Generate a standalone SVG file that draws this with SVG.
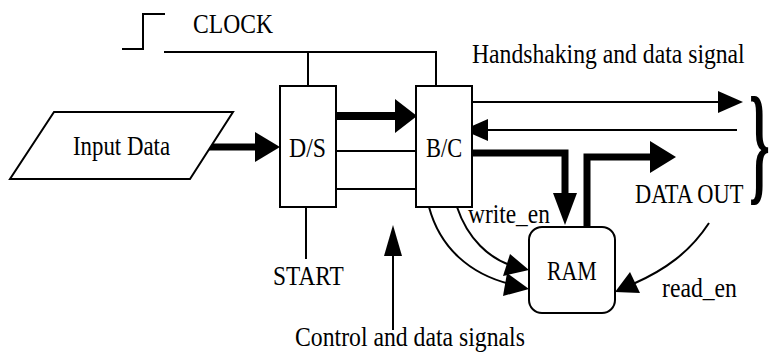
<svg xmlns="http://www.w3.org/2000/svg" width="773" height="352" viewBox="0 0 773 352">
<style>
.box{fill:#fff;stroke:#000;stroke-width:2}
.ln{fill:none;stroke:#000;stroke-width:2}
.thick{fill:none;stroke:#000;stroke-width:7}
.hd{fill:#000;stroke:none}
</style>
<rect width="773" height="352" fill="#fff"/>
<g id="connectors">
  <polyline class="ln" points="122,49 143,49 143,14 165,14"/>
  <polyline class="ln" points="164,52 436,52 436,86"/>
  <line class="ln" x1="308" y1="52" x2="308" y2="86"/>
  <line class="thick" x1="208" y1="147" x2="257" y2="147"/>
  <polygon class="hd" points="255,132 280,147 255,162"/>
  <line class="thick" x1="336" y1="116" x2="397" y2="116" style="stroke-width:8"/>
  <polygon class="hd" points="395,99 417,116 395,133"/>
  <line class="ln" x1="334" y1="151" x2="416" y2="151"/>
  <line class="ln" x1="336" y1="189" x2="416" y2="189"/>
  <line class="ln" x1="306" y1="207" x2="306" y2="259"/>
  <line class="ln" x1="393" y1="252" x2="393" y2="330"/>
  <polygon class="hd" points="393,225 402,256 384,256"/>
  <line class="ln" x1="470" y1="102" x2="720" y2="102"/>
  <polygon class="hd" points="718,91 743,102 718,113"/>
  <line class="ln" x1="486" y1="130" x2="737" y2="130"/>
  <polygon class="hd" points="488,119 463,130 488,141"/>
  <polyline class="thick" points="472,153 565,153 565,196"/>
  <polygon class="hd" points="553,193 577,193 565,225"/>
  <polyline class="thick" points="587,228 587,157 652,157"/>
  <polygon class="hd" points="650,141 676,157 650,173"/>
  <path class="ln" d="M457,207 C468,240 490,258 510,265"/>
  <polygon class="hd" points="529,270 503,276 510,254"/>
  <path class="ln" d="M429,207 C440,248 470,274 510,284"/>
  <polygon class="hd" points="529,289 503,296 507,273"/>
  <path class="ln" d="M709,223 C690,252 665,270 633,284"/>
  <polygon class="hd" points="615,292 630,272 640,293"/>
</g>
<g id="clock-label"><text font-family="Liberation Serif" font-size="27" transform="translate(193,33) scale(0.874,1)">CLOCK</text></g>
<g id="handshake-label"><text font-family="Liberation Serif" font-size="27" transform="translate(472,63) scale(0.877,1)">Handshaking and data signal</text></g>
<g id="input">
  <polygon class="box" points="54,112 233,112 190,179 10,179"/>
  <text font-family="Liberation Serif" font-size="27" transform="translate(73,155) scale(0.846,1)">Input Data</text>
</g>
<g id="ds">
  <rect class="box" x="280" y="86" width="56" height="121"/>
  <text font-family="Liberation Serif" font-size="27" transform="translate(289,157) scale(0.88,1)">D/S</text>
</g>
<g id="bc">
  <rect class="box" x="416" y="86" width="56" height="121"/>
  <text font-family="Liberation Serif" font-size="27" transform="translate(426,157) scale(0.83,1)">B/C</text>
</g>
<g id="ram">
  <rect class="box" x="529" y="227" width="86" height="86" rx="13"/>
  <text font-family="Liberation Serif" font-size="27" transform="translate(547,280) scale(0.81,1)">RAM</text>
</g>
<g id="labels">
  <text font-family="Liberation Serif" font-size="27" transform="translate(273,285) scale(0.865,1)">START</text>
  <text font-family="Liberation Serif" font-size="27" transform="translate(295,346) scale(0.879,1)">Control and data signals</text>
  <text font-family="Liberation Serif" font-size="27" transform="translate(468,223) scale(0.868,1)">write_en</text>
  <text font-family="Liberation Serif" font-size="27" transform="translate(635,203) scale(0.83,1)">DATA OUT</text>
  <text font-family="Liberation Serif" font-size="27" transform="translate(662,297) scale(0.877,1)">read_en</text>
</g>
<g id="brace">
  <text font-family="Liberation Serif" font-size="132" font-weight="bold" transform="translate(749,187) scale(0.4,1)">}</text>
</g>
</svg>
